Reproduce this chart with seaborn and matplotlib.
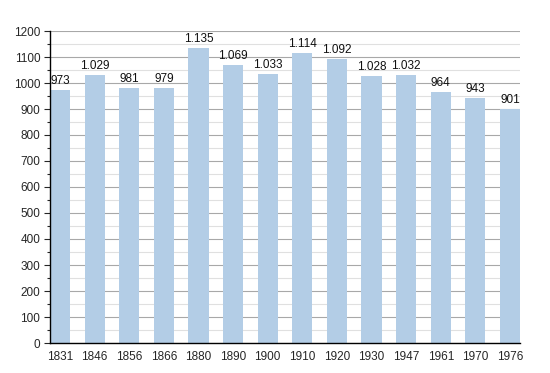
import matplotlib
matplotlib.use("Agg")
import matplotlib.pyplot as plt
import seaborn as sns
import pandas as pd
from matplotlib.ticker import MultipleLocator

years = ["1831", "1846", "1856", "1866", "1880", "1890", "1900", "1910", "1920", "1930", "1947", "1961", "1970", "1976"]
population = [973, 1029, 981, 979, 1135, 1069, 1033, 1114, 1092, 1028, 1032, 964, 943, 901]
labels = ["973", "1.029", "981", "979", "1.135", "1.069", "1.033", "1.114", "1.092", "1.028", "1.032", "964", "943", "901"]

df = pd.DataFrame({"year": years, "pop": population})

sns.set_style("white")
plt.rcParams['font.family'] = ['Liberation Sans', 'DejaVu Sans']

fig = plt.figure(figsize=(5.5, 3.73), dpi=100)
ax = fig.add_axes([50/550, 1-343/373, 470/550, 312/373])

w = 0.58
sns.barplot(data=df, x="year", y="pop", color="#b3cde6", saturation=1, width=w, ax=ax)
for p in ax.patches:
    p.set_zorder(3)
    p.set_linewidth(0)
    p.set_edgecolor("none")

for i, (v, t) in enumerate(zip(population, labels)):
    ax.text(i, v + 12, t, ha="center", va="bottom", fontsize=8.5, color="#111111", zorder=4)

ax.set_xlim(-w/2, len(years) - 1 + w/2)
ax.set_ylim(0, 1200)
ax.yaxis.set_major_locator(MultipleLocator(100))
ax.yaxis.set_minor_locator(MultipleLocator(50))
ax.grid(which="major", axis="y", color="#a8a8a8", linewidth=0.8)
ax.grid(which="minor", axis="y", color="#e0e0e0", linewidth=0.8)
ax.set_axisbelow(True)
for gl in ax.yaxis.get_gridlines() + ax.yaxis.get_minorticklines():
    pass
ax.set_xlabel("")
ax.set_ylabel("")
for s in ["top", "right"]:
    ax.spines[s].set_visible(False)
for s in ["left", "bottom"]:
    ax.spines[s].set_color("black")
    ax.spines[s].set_linewidth(1)
    ax.spines[s].set_zorder(5)
ax.tick_params(axis="y", which="major", left=True, length=4, width=0.8, labelsize=8.5, pad=3)
ax.tick_params(axis="y", which="minor", left=True, length=2, width=0.8)
ax.tick_params(axis="x", bottom=False, labelsize=8.5, pad=2)

fig.savefig("out.png", dpi=100)
